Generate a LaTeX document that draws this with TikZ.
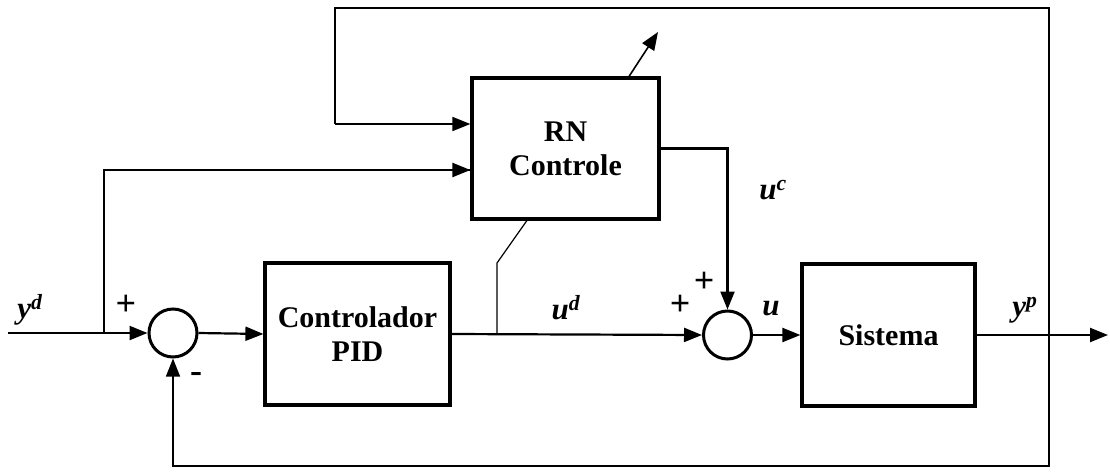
\documentclass[tikz,border=0pt]{standalone}
\usepackage{fontspec}
\setmainfont{Liberation Serif}
\usetikzlibrary{positioning,arrows.meta}
\tikzset{
  blk/.style ={rectangle, draw=black, line width=3.2pt, fill=white, align=center,
               font=\fontsize{30}{34}\selectfont\bfseries},
  sumnode/.style={circle, draw=black, line width=3pt, minimum size=48pt, inner sep=0pt},
  lbl/.style ={font=\fontsize{31}{34}\selectfont\bfseries\itshape, inner sep=0pt},
  sgn/.style ={font=\fontsize{36}{38}\selectfont\bfseries, inner sep=0pt},
  flow/.style={-{Triangle[length=18pt,width=14pt]}, draw=black, line width=2.2pt},
  wire/.style={draw=black, line width=1.2pt},
}
\begin{document}
\begin{tikzpicture}[x=1pt,y=-1pt]
\useasboundingbox (0,0) rectangle (1110,474);
% --- blocks ---
\node[blk, minimum width=187pt, minimum height=141pt] (rn)  at (565.5,148.5) {RN\\Controle};
\node[blk, minimum width=185pt, minimum height=142pt] (pid) at (357.5,334) {Controlador\\PID};
\node[blk, minimum width=173pt, minimum height=142pt] (sis) at (888.5,335) {Sistema};
% --- summing junctions ---
\node[sumnode] (sum1) at (173,333) {};
\node[sumnode] (sum2) at (727.5,335) {};
% --- free ends and branch points ---
\coordinate (in)    at (8,333);
\coordinate (out)   at (1108,335);
\coordinate (br1)   at (104,333);
\coordinate (br2)   at (497,334);
\coordinate (br3)   at (1049,335);
\coordinate (top)   at (1049,8);
\coordinate (topl)  at (335,8);
\coordinate (bot)   at (1049,466);
\coordinate (botl)  at (173,466);
\coordinate (adj1)  at (497,263);
\coordinate (adj2)  at (528,219);
\coordinate (adj3)  at (628,78);
\coordinate (adj4)  at (658,32);
% main path
\draw[flow] (in) -- (sum1.west);
\draw[flow] (sum1.east) -- (pid.west);
\draw[flow] (pid.east) -- (sum2.west);
\draw[flow] (sum2.east) -- (sis.west);
\draw[flow] (sis.east) -- (out);
% reference to RN controller
\draw[wire] (br1) -- (br1 |- 0,170) -- ([yshift=-21.5pt]rn.west);
\draw[flow] (br1 |- 0,170) -- ([yshift=-21.5pt]rn.west);
% plant output fed back to RN controller and to sum1
\draw[wire] (br3) -- (top) -- (topl) -- (topl |- 0,124);
\draw[flow, line width=1.5pt] (topl |- 0,124) -- ([yshift=24.5pt]rn.west);
\draw[wire] (br3) -- (bot) -- (botl) -- (sum1.south |- 0,380);
\draw[flow, line width=1.5pt] (sum1.south |- 0,380) -- (sum1.south);
% RN output
\draw[flow] (rn.east) -| (sum2.north);
% adaptation (error through the network)
\draw[wire] (br2) -- (adj1) -- (adj2);
\draw[flow, line width=1.6pt] (adj3) -- (adj4);
% --- labels ---
\node[lbl] (yd) at (30,310) {y\textsuperscript{d}};
\node[lbl] (ud) at (566,308) {u\textsuperscript{d}};
\node[lbl] (uc) at (773,190) {u\textsuperscript{c}};
\node[lbl] (u)  at (771,309) {u};
\node[lbl] (yp) at (1025,310) {y\textsuperscript{p}};
\node[sgn] (p1) at (126,305) {+};
\node[sgn] (m1) at (196,377) {-};
\node[sgn] (p2) at (680,305) {+};
\node[sgn] (p3) at (704,282) {+};
\end{tikzpicture}
\end{document}
